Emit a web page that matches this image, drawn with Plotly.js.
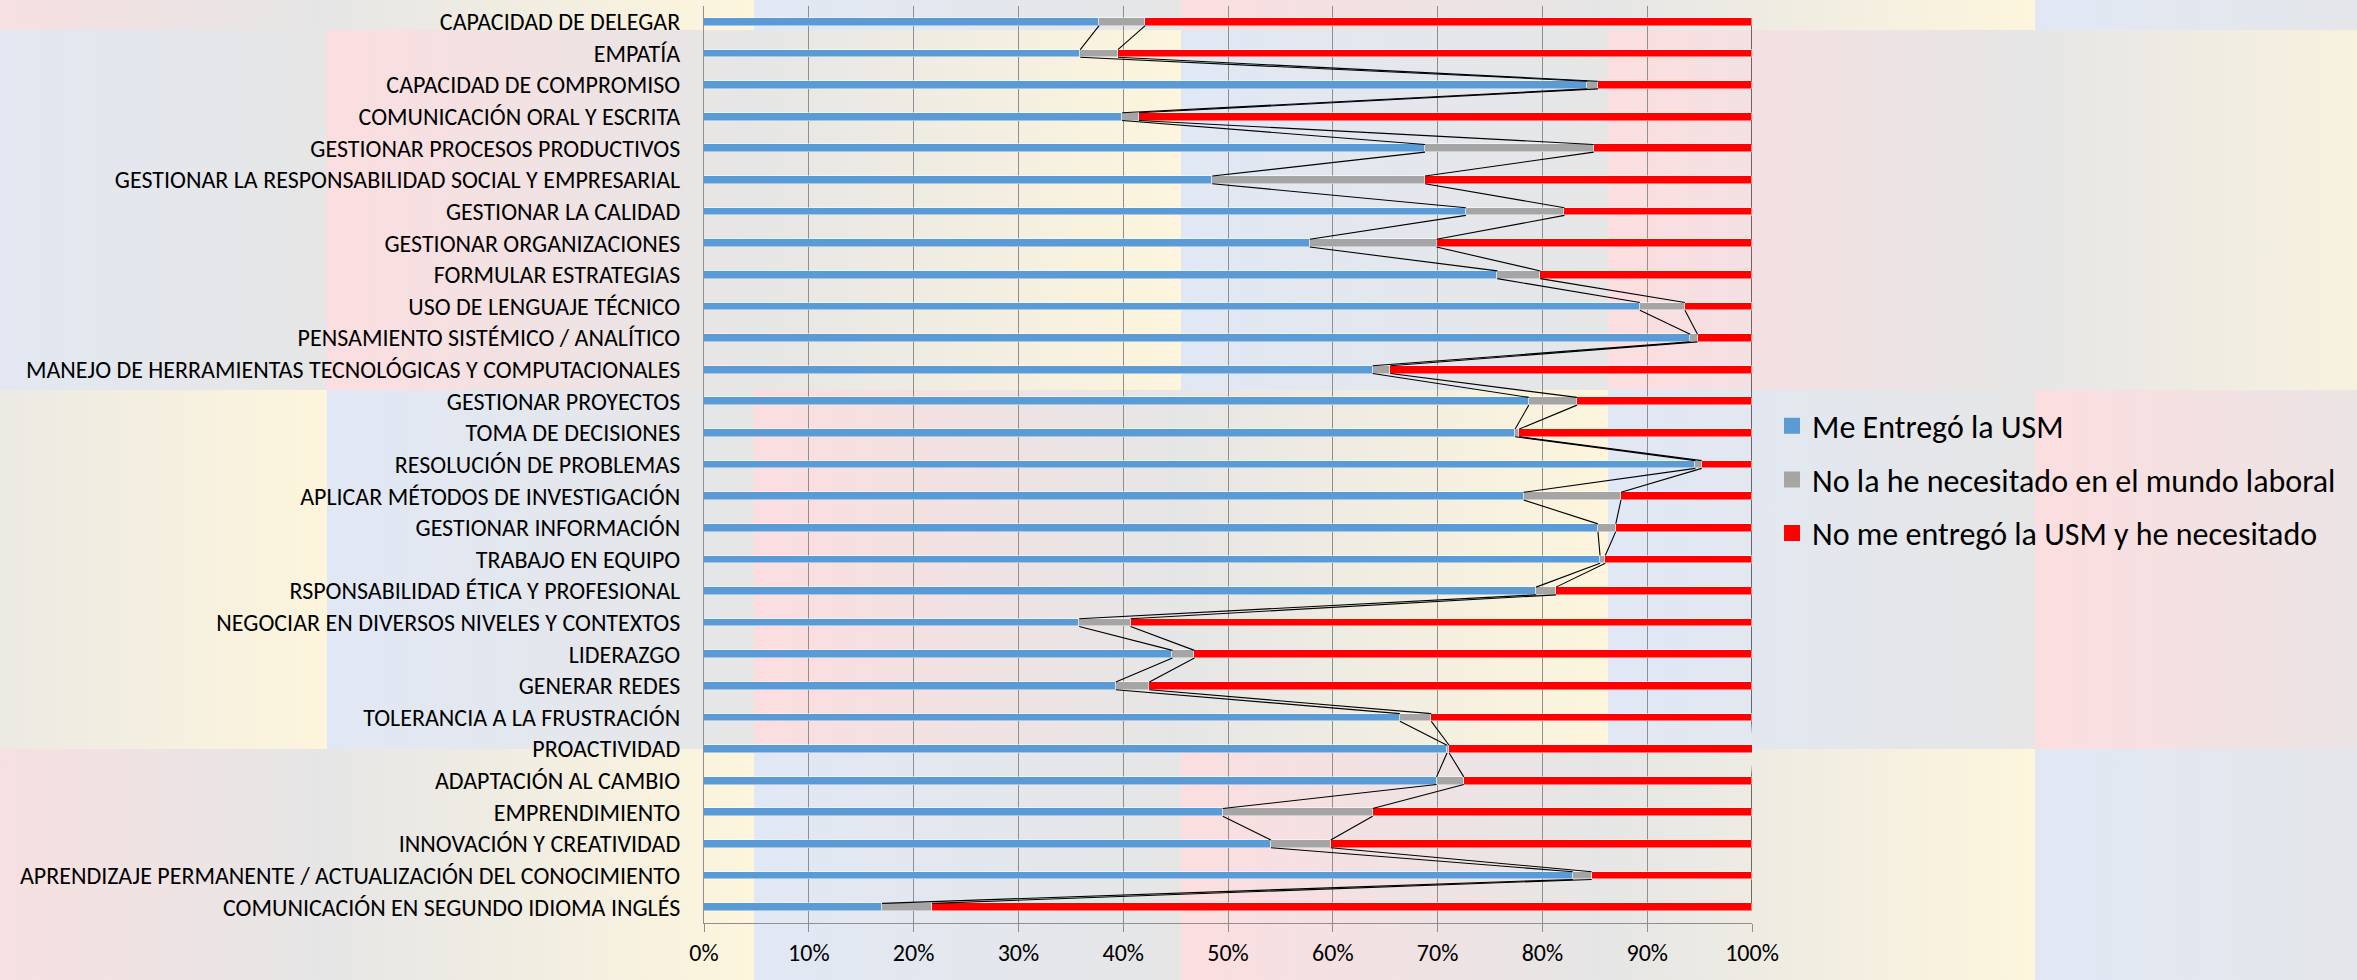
<!DOCTYPE html>
<html>
<head>
<meta charset="utf-8">
<script src="https://cdn.plot.ly/plotly-3.0.1.min.js"></script>
<style>
  html, body { margin: 0; padding: 0; background: #e6e6e6; }
  #wrap { position: relative; width: 2357px; height: 980px; overflow: hidden; }
  #bg { position: absolute; left: 0; top: 0; width: 2357px; height: 980px; }
  #chart { position: absolute; left: 0; top: 0; width: 2357px; height: 980px; }
  .cell { position: absolute; }
</style>
</head>
<body>
<div id="wrap">
  <div id="bg"></div>
  <div id="chart"></div>
</div>
<script>
// ---- data (percent) ----
const categories = [
  "CAPACIDAD DE DELEGAR",
  "EMPATÍA",
  "CAPACIDAD DE COMPROMISO",
  "COMUNICACIÓN ORAL Y ESCRITA",
  "GESTIONAR PROCESOS PRODUCTIVOS",
  "GESTIONAR LA RESPONSABILIDAD SOCIAL Y EMPRESARIAL",
  "GESTIONAR LA CALIDAD",
  "GESTIONAR ORGANIZACIONES",
  "FORMULAR ESTRATEGIAS",
  "USO DE LENGUAJE TÉCNICO",
  "PENSAMIENTO SISTÉMICO / ANALÍTICO",
  "MANEJO DE HERRAMIENTAS TECNOLÓGICAS Y COMPUTACIONALES",
  "GESTIONAR PROYECTOS",
  "TOMA DE DECISIONES",
  "RESOLUCIÓN DE PROBLEMAS",
  "APLICAR MÉTODOS DE INVESTIGACIÓN",
  "GESTIONAR INFORMACIÓN",
  "TRABAJO EN EQUIPO",
  "RSPONSABILIDAD ÉTICA Y PROFESIONAL",
  "NEGOCIAR EN DIVERSOS NIVELES Y CONTEXTOS",
  "LIDERAZGO",
  "GENERAR REDES",
  "TOLERANCIA A LA FRUSTRACIÓN",
  "PROACTIVIDAD",
  "ADAPTACIÓN AL CAMBIO",
  "EMPRENDIMIENTO",
  "INNOVACIÓN Y CREATIVIDAD",
  "APRENDIZAJE PERMANENTE / ACTUALIZACIÓN DEL CONOCIMIENTO",
  "COMUNICACIÓN EN SEGUNDO IDIOMA INGLÉS"
];
const meEntrego = [37.7, 35.9, 84.3, 39.9, 68.8, 48.5, 72.7, 57.8, 75.7, 89.3,
                   94.1, 63.8, 78.7, 77.4, 94.6, 78.2, 85.3, 85.5, 79.4, 35.8,
                   44.7, 39.3, 66.4, 70.9, 69.9, 49.5, 54.1, 82.9, 17.0];
const noNecesitado = [4.4, 3.6, 1.0, 1.6, 16.1, 20.3, 9.4, 12.1, 4.1, 4.3,
                      0.7, 1.7, 4.6, 0.4, 0.6, 9.3, 1.7, 0.5, 1.9, 4.9,
                      2.1, 3.2, 3.0, 0.2, 2.6, 14.3, 5.7, 1.8, 4.8];
const noEntrego = [57.9, 60.5, 14.7, 58.5, 15.1, 31.2, 17.9, 30.1, 20.2, 6.4,
                   5.2, 34.5, 16.7, 22.2, 4.8, 12.5, 13.0, 14.0, 18.7, 59.3,
                   53.2, 57.5, 30.6, 29.0, 27.5, 36.2, 40.2, 15.3, 78.2];
const seriesNames = ["Me Entregó la USM", "No la he necesitado en el mundo laboral", "No me entregó la USM y he necesitado"];
const seriesColors = ["#5B9BD5", "#A5A5A5", "#FF0000"];
const tickVals = [0, 10, 20, 30, 40, 50, 60, 70, 80, 90, 100];

// ---- decorative background (tiled pastel gradient cells) ----
(function () {
  const bg = document.getElementById('bg');
  const cw = 427.1, ch = 359.5, x0 = -100.6, y0 = 30;
  const gray = '#e6e6e6';
  const grads = [
    'linear-gradient(to right, #e1e8f5 0%, ' + gray + ' 100%)',   // blue
    'linear-gradient(to right, #fcdee0 0%, ' + gray + ' 100%)',   // pink
    'linear-gradient(to right, ' + gray + ' 0%, #fdf5dc 100%)'    // yellow
  ];
  for (let r = -1; r <= 2; r++) {
    for (let c = 0; c <= 6; c++) {
      const d = document.createElement('div');
      d.className = 'cell';
      d.style.left = (x0 + c * cw) + 'px';
      d.style.top = (y0 + r * ch) + 'px';
      d.style.width = (cw + 0.5) + 'px';
      d.style.height = (ch + 0.5) + 'px';
      const k = (((c - r) % 3) + 3) % 3;
      d.style.background = grads[k];
      bg.appendChild(d);
    }
  }
})();

// ---- chart ----
const idx = categories.map((_, i) => i);
const barW = 0.244;
const FONT = 'Carlito, Lato, "Open Sans", sans-serif';

const traces = [];
const seriesVals = [meEntrego, noNecesitado, noEntrego];
seriesVals.forEach((vals, s) => {
  traces.push({
    type: 'bar', orientation: 'h',
    x: vals, y: idx,
    width: barW,
    name: seriesNames[s],
    legendgroup: 'g' + s,
    showlegend: false,
    marker: { color: seriesColors[s], line: { color: 'rgba(255,255,255,0.45)', width: 1 } },
    hoverinfo: 'x+name'
  });
});

// series lines (connect cumulative ends of consecutive bars)
const cum1 = meEntrego.slice();
const cum2 = meEntrego.map((v, i) => v + noNecesitado[i]);
const cum3 = cum2.map((v, i) => v + noEntrego[i]);
[cum1, cum2, cum3].forEach((cum) => {
  const xs = [], ys = [];
  for (let i = 0; i < cum.length - 1; i++) {
    xs.push(cum[i], cum[i + 1], null);
    ys.push(i + barW / 2, i + 1 - barW / 2, null);
  }
  traces.push({
    type: 'scatter', mode: 'lines', x: xs, y: ys,
    line: { color: '#000000', width: 1.1 },
    showlegend: false, hoverinfo: 'skip', cliponaxis: false
  });
});

// legend entries
seriesNames.forEach((n, s) => {
  traces.push({
    type: 'scatter', mode: 'markers', x: [null], y: [null],
    name: n, legendgroup: 'g' + s, showlegend: true,
    marker: { symbol: 'square', size: 16, color: seriesColors[s], line: { width: 0 } },
    hoverinfo: 'skip'
  });
});

const layout = {
  width: 2357, height: 980,
  margin: { l: 704, r: 605, t: 6, b: 57 },
  paper_bgcolor: 'rgba(0,0,0,0)',
  plot_bgcolor: 'rgba(0,0,0,0)',
  barmode: 'stack',
  bargap: 0,
  font: { family: FONT, color: '#000000' },
  showlegend: true,
  legend: {
    x: 1.0191, xanchor: 'left',
    y: 0.572, yanchor: 'top',
    bgcolor: 'rgba(0,0,0,0)',
    font: { family: FONT, size: 32, color: '#000000' },
    traceorder: 'grouped',
    tracegroupgap: 9,
    itemclick: false, itemdoubleclick: false
  },
  xaxis: {
    range: [0, 100],
    tickvals: tickVals,
    ticktext: tickVals.map(v => v + '%'),
    showgrid: true, gridcolor: '#8f8f8f', gridwidth: 1,
    zeroline: false,
    showline: true, linecolor: '#8f8f8f', linewidth: 1,
    ticks: 'outside', ticklen: 8, tickcolor: '#8f8f8f', tickwidth: 1,
    tickfont: { family: FONT, size: 24, color: '#000000' },
    fixedrange: true
  },
  yaxis: {
    range: [28.5, -0.5],
    tickvals: idx,
    ticktext: categories,
    showgrid: false,
    zeroline: false,
    showline: true, linecolor: '#8f8f8f', linewidth: 1,
    ticks: 'outside', ticklen: 18, tickcolor: 'rgba(0,0,0,0)',
    tickfont: { family: FONT, size: 24, color: '#000000' },
    fixedrange: true
  }
};

Plotly.newPlot('chart', traces, layout, { displayModeBar: false, staticPlot: false });
</script>
</body>
</html>
